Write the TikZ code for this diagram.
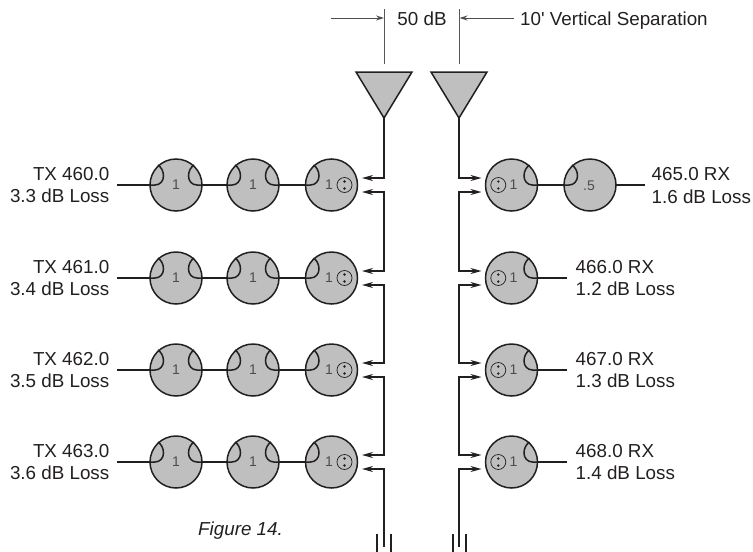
\documentclass[tikz,border=0pt]{standalone}
\usepackage{fontspec}
\setmainfont{Liberation Sans}[Ligatures=TeXOff]
\usetikzlibrary{arrows.meta,calc}
\definecolor{ink}{HTML}{231F20}
\definecolor{fillg}{HTML}{BFBFBF}
\tikzset{
  x=1pt,y=-1pt,
  coupler/.style={circle,draw=ink,fill=fillg,line width=1.5pt,minimum size=52pt,inner sep=0pt,outer sep=0pt},
  wire/.style={draw=ink,line width=1.5pt},
  feed/.style={draw=ink,line width=1.5pt,-{Stealth[length=11pt,width=6pt]}},
  bifeed/.style={draw=ink,line width=1.5pt,{Stealth[length=11pt,width=6pt]}-{Stealth[length=11pt,width=6pt]}},
  endfeed/.style={draw=ink,line width=1.5pt,{Stealth[length=11pt,width=6pt]}-},
  thin line/.style={draw=ink!75,line width=1pt},
  dim/.style={draw=ink!80,line width=1pt,-{Stealth[length=8pt,width=5pt]}},
  ant/.style={draw=ink,fill=fillg,line width=1.5pt,line join=miter},
  lab/.style={font=\fontsize{18.8}{22}\selectfont,text=ink,inner sep=0pt,anchor=base},
  val/.style={font=\fontsize{14}{16}\selectfont,text=ink!80,inner sep=0pt},
  port/.style={circle,draw=ink,line width=0.7pt,minimum size=15pt,inner sep=0pt},
  pin/.style={circle,fill=ink,minimum size=2.6pt,inner sep=0pt}
}
\newcommand{\arcleft}[1]{%
  \draw[wire] ($(#1)+(-26,0)$) -- ($(#1)+(-21,0)$) .. controls ($(#1)+(-16,0)$) and ($(#1)+(-12.5,-4)$) .. ($(#1)+(-12.5,-9)$) .. controls ($(#1)+(-12.5,-14)$) and ($(#1)+(-15,-18)$) .. ($(#1)+(-18,-20)$);}
\newcommand{\arcright}[1]{%
  \draw[wire] ($(#1)+(26,0)$) -- ($(#1)+(21,0)$) .. controls ($(#1)+(16,0)$) and ($(#1)+(12.5,-4)$) .. ($(#1)+(12.5,-9)$) .. controls ($(#1)+(12.5,-14)$) and ($(#1)+(15,-18)$) .. ($(#1)+(18,-20)$);}
\begin{document}
\begin{tikzpicture}
\useasboundingbox (0,0) rectangle (753,552);
% antennas
\coordinate (LA) at (384,118);
\coordinate (RA) at (459,118);
\draw[ant] (356,72) -- (412,72) -- (LA) -- cycle;
\draw[ant] (431,72) -- (487,72) -- (RA) -- cycle;
\coordinate (LT) at (384,9); \coordinate (LB) at (384,64);
\coordinate (RT) at (459.5,9); \coordinate (RB) at (459.5,64);
\draw[thin line] (LT) -- (LB);
\draw[thin line] (RT) -- (RB);
\coordinate (LD) at (331,18); \coordinate (LDt) at (384,18);
\coordinate (RD) at (514,18); \coordinate (RDt) at (459.5,18);
\draw[dim] (LD) -- (LDt);
\draw[dim] (RD) -- (RDt);
\node[lab] (db) at (422,25) {50 dB};
\node[lab,anchor=base west] (sep) at (520,25) {10' Vertical Separation};
% rows
\foreach \r/\y/\f/\l in {1/185/460.0/3.3,2/278/461.0/3.4,3/370/462.0/3.5,4/462/463.0/3.6}{
  \node[coupler] (A\r) at (176,\y) {};
  \node[coupler] (B\r) at (253,\y) {};
  \node[coupler] (C\r) at (331.5,\y) {};
  \node[val] (Av\r) at (176,\y) {1};
  \node[val] (Bv\r) at (253,\y) {1};
  \node[val] (Cv\r) at (329,\y) {1};
  \node[port] (Cp\r) at (344.5,\y) {};
  \node[pin] (Cpa\r) at (344.5,\y-3.5) {};
  \node[pin] (Cpb\r) at (344.5,\y+3.5) {};
  \arcleft{A\r} \arcright{A\r}
  \arcleft{B\r} \arcright{B\r}
  \arcleft{C\r}
  \draw[wire] ($(A\r)+(26,0)$) -- ($(B\r)+(-26,0)$);
  \draw[wire] ($(B\r)+(26,0)$) -- ($(C\r)+(-26,0)$);
  \coordinate (Ls\r) at (117,\y);
  \draw[wire] (Ls\r) -- ($(A\r)+(-26,0)$);
  \node[lab,anchor=base east] (Tx\r) at (109.5,\y-5) {TX \f};
  \node[lab,anchor=base east] (Tl\r) at (109.5,\y+17.7) {\l\ dB Loss};
  \coordinate (Lu\r) at (384,\y-7); \coordinate (Ld\r) at (384,\y+7);
  \coordinate (Lue\r) at (362,\y-7); \coordinate (Lde\r) at (362,\y+7);
  \coordinate (Ru\r) at (459,\y-7); \coordinate (Rd\r) at (459,\y+7);
  \coordinate (Rue\r) at (481.5,\y-7); \coordinate (Rde\r) at (481.5,\y+7);
}
\foreach \r/\y/\f/\l in {1/185/465.0/1.6,2/278/466.0/1.2,3/370/467.0/1.3,4/462/468.0/1.4}{
  \node[coupler] (D\r) at (511.5,\y) {};
  \node[val] (Dv\r) at (513.5,\y) {1};
  \node[port] (Dp\r) at (498.3,\y) {};
  \node[pin] (Dpa\r) at (498.3,\y-3.5) {};
  \node[pin] (Dpb\r) at (498.3,\y+3.5) {};
  \arcright{D\r}
}
\node[coupler] (E1) at (590,185) {};
\node[val] (Ev1) at (589,186) {.5};
\arcleft{E1}
\draw[wire] ($(D1)+(26,0)$) -- ($(E1)+(-26,0)$);
\coordinate (Re1) at (645,185);
\draw[wire] ($(E1)+(26,0)$) -- (Re1);
\node[lab,anchor=base west] (Rx1) at (651.5,180.5) {465.0 RX};
\node[lab,anchor=base west] (Rl1) at (651.5,203.2) {1.6 dB Loss};
\foreach \r/\y/\f/\l in {2/278/466.0/1.2,3/370/467.0/1.3,4/462/468.0/1.4}{
  \coordinate (Re\r) at (567,\y);
  \draw[wire] ($(D\r)+(26,0)$) -- (Re\r);
  \node[lab,anchor=base west] (Rx\r) at (575.5,\y-5) {\f\ RX};
  \node[lab,anchor=base west] (Rl\r) at (575.5,\y+17.7) {\l\ dB Loss};
}
% feeds
\draw[feed] (LA) -- (Lu1) -- (Lue1);
\draw[feed] (RA) -- (Ru1) -- (Rue1);
\draw[bifeed] (Lde1) -- (Ld1) -- (Lu2) -- (Lue2);
\draw[bifeed] (Lde2) -- (Ld2) -- (Lu3) -- (Lue3);
\draw[bifeed] (Lde3) -- (Ld3) -- (Lu4) -- (Lue4);
\draw[bifeed] (Rde1) -- (Rd1) -- (Ru2) -- (Rue2);
\draw[bifeed] (Rde2) -- (Rd2) -- (Ru3) -- (Rue3);
\draw[bifeed] (Rde3) -- (Rd3) -- (Ru4) -- (Rue4);
\coordinate (Lend) at (384,547);
\coordinate (Rend) at (459,547);
\draw[endfeed] (Lde4) -- (Ld4) -- (Lend);
\draw[endfeed] (Rde4) -- (Rd4) -- (Rend);
% terminations
\foreach \x in {377,391,453,466}{
  \draw[wire] (\x,534) -- (\x,552);
}
\node[lab,anchor=base west,font=\fontsize{18.8}{22}\selectfont\itshape] (fig) at (198,535) {Figure 14.};
\end{tikzpicture}
\end{document}
